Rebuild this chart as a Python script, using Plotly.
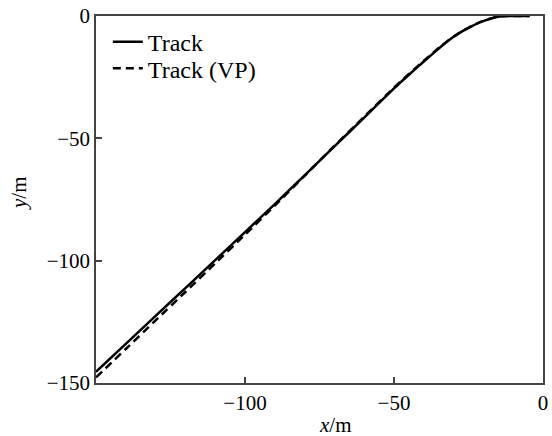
import plotly.graph_objects as go

# Track (solid)
track_x = [-150, -140, -130, -120, -110, -100, -90, -80, -70, -60, -50, -45, -40, -35, -32, -30, -27, -24, -21, -18, -16, -14, -12, -8, -4.5]
track_y = [-145.4, -134.0, -122.6, -111.2, -99.8, -88.3, -76.9, -65.1, -53.3, -41.5, -29.6, -24.0, -18.6, -13.3, -10.3, -8.5, -6.2, -4.2, -2.5, -1.2, -0.5, -0.1, 0.0, 0.0, 0.0]

# Track (VP) (dashed)
vp_x = [-150, -140, -130, -120, -110, -100, -90, -80, -70, -60, -50, -45, -40, -35, -32, -30, -27, -24, -21, -18, -16, -14, -12, -8, -4.5]
vp_y = [-147.7, -136.1, -124.4, -112.8, -101.1, -89.4, -77.5, -65.3, -53.1, -41.2, -29.3, -23.7, -18.3, -13.1, -10.2, -8.4, -6.1, -4.1, -2.4, -1.2, -0.5, -0.1, 0.0, 0.0, 0.0]

x_ticks = [-100, -50, 0]
y_ticks = [-150, -100, -50, 0]

FONT = "Liberation Serif"

fig = go.Figure()
fig.add_trace(go.Scatter(x=track_x, y=track_y, mode="lines", name="Track", legend="legend",
                         line=dict(color="black", width=2.5, shape="spline", smoothing=0.5)))
fig.add_trace(go.Scatter(x=vp_x, y=vp_y, mode="lines", name="Track (VP)", legend="legend2",
                         line=dict(color="black", width=2.5, dash="8px,5px", shape="spline", smoothing=0.5)))

axis_common = dict(
    showgrid=False, zeroline=False, showline=True, linecolor="#444", linewidth=1.5,
    mirror=True, ticks="inside", ticklen=6, tickwidth=1.5, tickcolor="#444",
    tickfont=dict(family=FONT, size=21, color="black"),
)
fig.update_xaxes(range=[-150, 0], tickvals=x_ticks, **axis_common)
fig.update_yaxes(range=[-150, 0], tickvals=y_ticks, **axis_common)

legend_common = dict(xanchor="left", yanchor="top", bgcolor="rgba(0,0,0,0)", itemwidth=30,
                     font=dict(family=FONT, size=24, color="black"))

fig.update_layout(
    width=552, height=436,
    margin=dict(l=96, r=4, t=15, b=53),
    plot_bgcolor="white", paper_bgcolor="white",
    font=dict(family=FONT, size=21, color="black"),
    showlegend=True,
    legend=dict(x=0.0265, y=0.99, **legend_common),
    legend2=dict(x=0.0265, y=0.918, **legend_common),
    annotations=[
        dict(text="<i>x</i>/m", xref="paper", yref="paper", x=0.535, y=-0.115,
             xanchor="center", yanchor="middle", showarrow=False,
             font=dict(family=FONT, size=21, color="black")),
        dict(text="<i>y</i>/m", xref="paper", yref="paper", x=-0.172, y=0.518,
             xanchor="center", yanchor="middle", showarrow=False, textangle=-90,
             font=dict(family=FONT, size=21, color="black")),
    ],
)

fig.write_html("out.html")
